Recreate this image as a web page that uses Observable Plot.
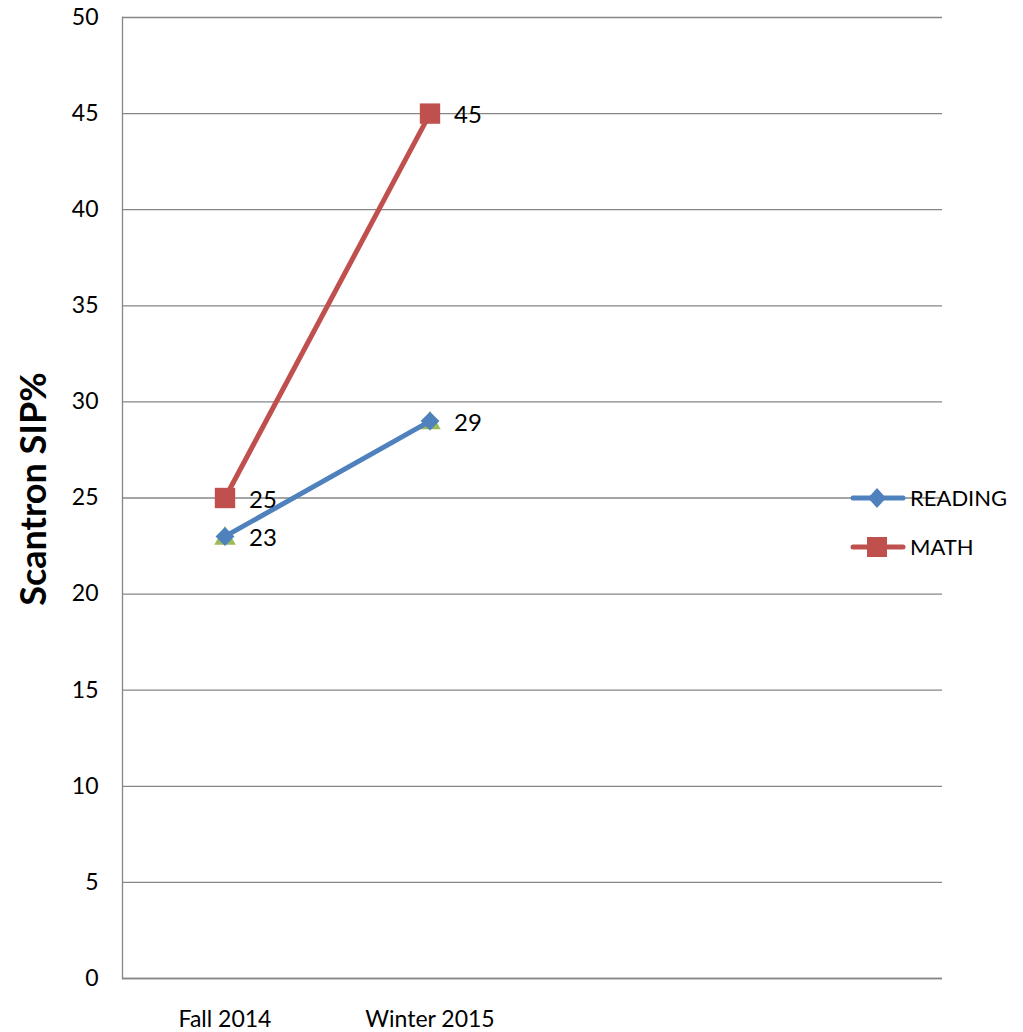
<!DOCTYPE html>
<html>
<head>
<meta charset="utf-8">
<script src="https://cdn.jsdelivr.net/npm/d3@7"></script>
<script src="https://cdn.jsdelivr.net/npm/@observablehq/plot@0.6"></script>
<style>
  body { margin: 0; background: #fff; }
  #wrap { position: relative; width: 1023px; height: 1032px; font-family: Lato, "Open Sans", sans-serif; }
  #legend { position: absolute; left: 850px; top: 473px; font-size: 22px; color: #000; }
  .row { display: flex; align-items: center; height: 49px; }
  .row span { margin-left: 4px; }
</style>
</head>
<body>
<div id="wrap">
  <div id="chart"></div>
  <div id="legend"></div>
</div>
<script>
const categories = ["Fall 2014", "Winter 2015"];
const reading = [23, 29];
const math = [25, 45];
const hidden = [23, 29];
const yTicks = [0, 5, 10, 15, 20, 25, 30, 35, 40, 45, 50];
const seriesNames = ["READING", "MATH"];
const colors = {READING: "#4F81BD", MATH: "#C0504D", hidden: "#9BBB59"};

const rows = (vals) => categories.map((c, i) => ({cat: c, value: vals[i]}));
const readingData = rows(reading);
const mathData = rows(math);
const hiddenData = rows(hidden);

const xDomain = [...categories, "_3", "_4"];

const chart = Plot.plot({
  width: 1023,
  height: 1032,
  marginLeft: 122,
  marginRight: 81,
  marginTop: 17,
  marginBottom: 54,
  style: {fontFamily: "Lato, 'Open Sans', sans-serif", fontSize: "23px", color: "#000", background: "#fff"},
  x: {type: "band", domain: xDomain, padding: 0},
  y: {domain: [0, 50]},
  marks: [
    Plot.gridY(yTicks, {stroke: "#868686", strokeOpacity: 1, strokeWidth: 1.3}),
    Plot.frame({anchor: "left", stroke: "#868686", strokeWidth: 1.3}),
    Plot.ruleY([0], {stroke: "#868686", strokeWidth: 1.3}),
    Plot.axisY(yTicks, {tickSize: 0, tickPadding: 24, label: null, fontSize: 23}),
    Plot.axisX({tickSize: 0, tickPadding: 32, label: null, fontSize: 23,
      tickFormat: d => categories.includes(d) ? d : ""}),
    Plot.text(["Scantron SIP%"], {frameAnchor: "left", rotate: -90, dx: -88, dy: -9, textAnchor: "middle", fontSize: 36, fontWeight: "bold"}),
    Plot.dot(hiddenData, {x: "cat", y: "value", symbol: "triangle", r: 8, fill: colors.hidden, dy: 2}),
    Plot.line(readingData, {x: "cat", y: "value", stroke: colors.READING, strokeWidth: 5}),
    Plot.dot(readingData, {x: "cat", y: "value", symbol: "diamond2", r: 8.5, fill: colors.READING}),
    Plot.line(mathData, {x: "cat", y: "value", stroke: colors.MATH, strokeWidth: 5}),
    Plot.dot(mathData, {x: "cat", y: "value", symbol: "square", r: 11.5, fill: colors.MATH}),
    Plot.text(readingData, {x: "cat", y: "value", text: d => String(d.value), dx: 24, dy: 2, textAnchor: "start", fontSize: 24, fill: "#000"}),
    Plot.text(mathData, {x: "cat", y: "value", text: d => String(d.value), dx: 24, dy: 2, textAnchor: "start", fontSize: 24, fill: "#000"})
  ]
});
document.getElementById("chart").appendChild(chart);

const legend = document.getElementById("legend");
const symbolFor = {READING: "diamond", MATH: "square"};
seriesNames.forEach(name => {
  const row = document.createElement("div");
  row.className = "row";
  const c = colors[name];
  const marker = symbolFor[name] === "square"
    ? `<rect x="17" y="9" width="20" height="20" fill="${c}"/>`
    : `<path d="M27 9 L36 19 L27 29 L18 19 Z" fill="${c}"/>`;
  row.innerHTML = `<svg width="56" height="38"><line x1="3" y1="19" x2="53" y2="19" stroke="${c}" stroke-width="5" stroke-linecap="round"/>${marker}</svg><span>${name}</span>`;
  legend.appendChild(row);
});
</script>
</body>
</html>
